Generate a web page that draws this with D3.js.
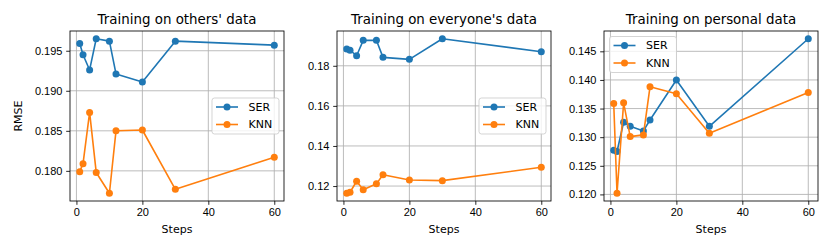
<!DOCTYPE html>
<html>
<head>
<meta charset="utf-8">
<script src="https://cdnjs.cloudflare.com/ajax/libs/d3/7.8.5/d3.min.js"></script>
<style>
    body { margin: 0; background: #fff; }
    svg { font-family: "DejaVu Sans", sans-serif; }
    .axis path, .axis line { stroke: #000; stroke-width: 0.85; }
    .axis text { font-size: 11px; fill: #000; }
    .grid line { stroke: #b0b0b0; stroke-width: 0.85; }
    .title { font-size: 13.4px; }
    .axis-label { font-size: 11px; }
    .legend text { font-size: 11px; }
</style>
</head>
<body>
<div id="chart"></div>
<script>
// chart data
const steps = [1, 2, 4, 6, 10, 12, 20, 30, 60];
const seriesNames = ["SER", "KNN"];
const colors = ["#1f77b4", "#ff7f0e"];

const titles = ["Training on others' data", "Training on everyone's data", "Training on personal data"];

// others' data
const othersSER = [0.1959, 0.1945, 0.1926, 0.1965, 0.1962, 0.1921, 0.1911, 0.1962, 0.1957];
const othersKNN = [0.1799, 0.1809, 0.1873, 0.1798, 0.1772, 0.1850, 0.1851, 0.1777, 0.1817];

// everyone's data
const everyoneSER = [0.1884, 0.1878, 0.1850, 0.1927, 0.1927, 0.1842, 0.1832, 0.1935, 0.1870];
const everyoneKNN = [0.1164, 0.1169, 0.1224, 0.1182, 0.1211, 0.1256, 0.1230, 0.1227, 0.1294];

// personal data
const personalSER = [0.1277, 0.1275, 0.1326, 0.1319, 0.1311, 0.1330, 0.1400, 0.1319, 0.1472];
const personalKNN = [0.1359, 0.1202, 0.1360, 0.1301, 0.1304, 0.1388, 0.1376, 0.1307, 0.1378];

const xTicks = [0, 20, 40, 60];
const yTicksOthers = [0.180, 0.185, 0.190, 0.195];
const yTicksEveryone = [0.12, 0.14, 0.16, 0.18];
const yTicksPersonal = [0.120, 0.125, 0.130, 0.135, 0.140, 0.145];

const width = 830, height = 249;

const svg = d3.select("#chart").append("svg")
    .attr("width", width)
    .attr("height", height);

class linePanel {
    constructor(svg, left, title, series, yTicks, yFormat, legendPos, showYLabel) {
        this.svg = svg;
        this.left = left;
        this.title = title;
        this.series = series;
        this.yTicks = yTicks;
        this.yFormat = yFormat;
        this.legendPos = legendPos;
        this.showYLabel = showYLabel;
        this.initVis();
    }

    initVis() {
        let vis = this;
        vis.width = 214;
        vis.height = 170;
        vis.top = 31;

        vis.g = vis.svg.append("g")
            .attr("transform", "translate(" + vis.left + "," + vis.top + ")");

        // matplotlib style 5% margins
        let xExt = d3.extent(steps);
        let xPad = (xExt[1] - xExt[0]) * 0.05;
        vis.x = d3.scaleLinear()
            .domain([xExt[0] - xPad, xExt[1] + xPad])
            .range([0, vis.width]);

        let yExt = d3.extent(vis.series.flat());
        let yPad = (yExt[1] - yExt[0]) * 0.05;
        vis.y = d3.scaleLinear()
            .domain([yExt[0] - yPad, yExt[1] + yPad])
            .range([vis.height, 0]);

        vis.updateVis();
    }

    updateVis() {
        let vis = this;

        // grid
        let grid = vis.g.append("g").attr("class", "grid");
        grid.selectAll(".gx")
            .data(xTicks)
            .enter().append("line")
            .attr("x1", d => vis.x(d)).attr("x2", d => vis.x(d))
            .attr("y1", 0).attr("y2", vis.height);
        grid.selectAll(".gy")
            .data(vis.yTicks)
            .enter().append("line")
            .attr("y1", d => vis.y(d)).attr("y2", d => vis.y(d))
            .attr("x1", 0).attr("x2", vis.width);

        // lines and markers
        let line = d3.line()
            .x((d, i) => vis.x(steps[i]))
            .y(d => vis.y(d));

        vis.series.forEach(function (s, k) {
            vis.g.append("path")
                .datum(s)
                .attr("fill", "none")
                .attr("stroke", colors[k])
                .attr("stroke-width", 1.6)
                .attr("stroke-linejoin", "round")
                .attr("d", line);
            vis.g.selectAll(".dot" + k)
                .data(s)
                .enter().append("circle")
                .attr("cx", (d, i) => vis.x(steps[i]))
                .attr("cy", d => vis.y(d))
                .attr("r", 3.5)
                .attr("fill", colors[k]);
        });

        // axes
        vis.g.append("g")
            .attr("class", "x-axis axis")
            .attr("transform", "translate(0," + vis.height + ")")
            .call(d3.axisBottom(vis.x).tickValues(xTicks).tickSize(3.8).tickPadding(3.8).tickFormat(d3.format("d")));

        vis.g.append("g")
            .attr("class", "y-axis axis")
            .call(d3.axisLeft(vis.y).tickValues(vis.yTicks).tickSize(3.8).tickPadding(3.8).tickFormat(d3.format(vis.yFormat)));

        vis.g.selectAll(".domain").remove();
        vis.g.append("rect")
            .attr("width", vis.width)
            .attr("height", vis.height)
            .attr("fill", "none")
            .attr("stroke", "#000")
            .attr("stroke-width", 0.85);

        // title
        vis.g.append("text")
            .attr("class", "title")
            .attr("x", vis.width / 2)
            .attr("y", -7)
            .attr("text-anchor", "middle")
            .text(vis.title);

        // x label
        vis.g.append("text")
            .attr("class", "axis-label")
            .attr("x", vis.width / 2)
            .attr("y", vis.height + 32)
            .attr("text-anchor", "middle")
            .text("Steps");

        if (vis.showYLabel) {
            vis.g.append("text")
                .attr("class", "axis-label")
                .attr("transform", "rotate(-90)")
                .attr("x", -vis.height / 2)
                .attr("y", -vis.left + 22)
                .attr("text-anchor", "middle")
                .text("RMSE");
        }

        // legend
        let lw = 67, lh = 36;
        let lx, ly;
        if (vis.legendPos === "center right") {
            lx = vis.width - 5 - lw;
            ly = vis.height / 2 - lh / 2;
        } else {
            lx = 5.5;
            ly = 5.5;
        }
        let legend = vis.g.append("g")
            .attr("class", "legend")
            .attr("transform", "translate(" + lx + "," + ly + ")");
        legend.append("rect")
            .attr("width", lw)
            .attr("height", lh)
            .attr("rx", 2.5)
            .attr("fill", "#fff")
            .attr("fill-opacity", 0.8)
            .attr("stroke", "#cccccc")
            .attr("stroke-width", 0.85);
        seriesNames.forEach(function (name, k) {
            let cy = 9 + k * 17.5;
            legend.append("line")
                .attr("x1", 4).attr("x2", 26)
                .attr("y1", cy).attr("y2", cy)
                .attr("stroke", colors[k])
                .attr("stroke-width", 1.6);
            legend.append("circle")
                .attr("cx", 15).attr("cy", cy)
                .attr("r", 3.5)
                .attr("fill", colors[k]);
            legend.append("text")
                .attr("x", 36.5)
                .attr("y", cy)
                .attr("dy", "0.36em")
                .text(name);
        });
    }
}

new linePanel(svg, 70, titles[0], [othersSER, othersKNN], yTicksOthers, ".3f", "center right", true);
new linePanel(svg, 337, titles[1], [everyoneSER, everyoneKNN], yTicksEveryone, ".2f", "center right", false);
new linePanel(svg, 604, titles[2], [personalSER, personalKNN], yTicksPersonal, ".3f", "upper left", false);
</script>
</body>
</html>
